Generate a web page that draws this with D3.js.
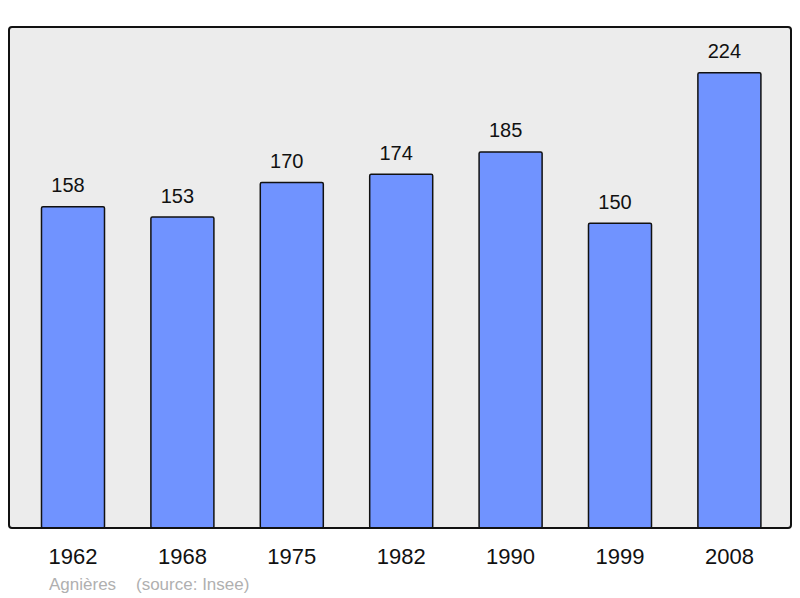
<!DOCTYPE html>
<html><head><meta charset="utf-8">
<script src="https://cdn.jsdelivr.net/npm/d3@7"></script>
<style>body{margin:0;background:#fff}svg{display:block}</style>
</head><body>
<script>
const years = ["1962","1968","1975","1982","1990","1999","2008"];
const population = [158,153,170,174,185,150,224];
const place = "Agnières";
const source = "(source: Insee)";

const W = 800, H = 598;
const svg = d3.select("body").append("svg").attr("width", W).attr("height", H);
const font = "'Liberation Sans', Arial, sans-serif";

const panel = {x0: 9, x1: 791, y0: 27, y1: 528};
svg.append("rect").attr("x", panel.x0).attr("y", panel.y0)
  .attr("width", panel.x1 - panel.x0).attr("height", panel.y1 - panel.y0)
  .attr("rx", 3).attr("fill", "#ececec");

const x = d3.scaleBand().domain(years).range([18.3, 784.1]).padding(0);
const y = d3.scaleLinear().domain([0, 246.5]).range([panel.y1, panel.y0]);
const bw = x.bandwidth() * 0.576;

const g = svg.append("g");
g.selectAll("rect.bar").data(years).join("rect").attr("class", "bar")
  .attr("x", (d) => x(d) + (x.bandwidth() - bw) / 2)
  .attr("y", (d, i) => y(population[i]))
  .attr("width", bw)
  .attr("height", (d, i) => panel.y1 - y(population[i]))
  .attr("rx", 1.5)
  .attr("fill", "#7093ff").attr("stroke", "#111").attr("stroke-width", 1.5);

g.selectAll("text.val").data(years).join("text").attr("class", "val")
  .attr("x", (d) => x(d) + x.bandwidth() / 2 - 5)
  .attr("y", (d, i) => y(population[i]) - 14.5)
  .attr("text-anchor", "middle").attr("font-family", font).attr("font-size", 20)
  .attr("fill", "#111").text((d, i) => population[i]);

g.selectAll("text.yr").data(years).join("text").attr("class", "yr")
  .attr("x", (d) => x(d) + x.bandwidth() / 2)
  .attr("y", 564)
  .attr("text-anchor", "middle").attr("font-family", font).attr("font-size", 22)
  .attr("fill", "#111").text((d) => d);

svg.append("text").attr("x", 49).attr("y", 590).attr("font-family", font)
  .attr("font-size", 17).attr("fill", "#b0b0b0").text(place);
svg.append("text").attr("x", 136).attr("y", 590).attr("font-family", font)
  .attr("font-size", 17).attr("fill", "#b0b0b0").text(source);

svg.append("rect").attr("x", panel.x0).attr("y", panel.y0)
  .attr("width", panel.x1 - panel.x0).attr("height", panel.y1 - panel.y0)
  .attr("rx", 3).attr("fill", "none").attr("stroke", "#111").attr("stroke-width", 2);
</script>
</body></html>
